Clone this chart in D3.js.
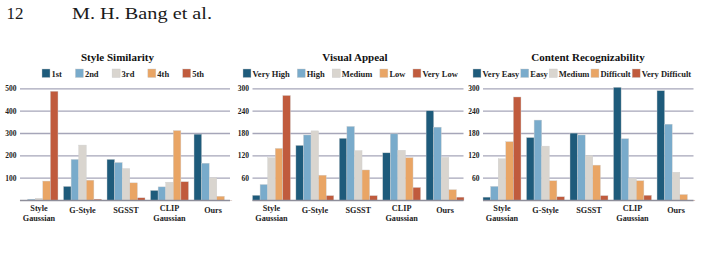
<!DOCTYPE html>
<html>
<head>
<meta charset="utf-8">
<script src="https://cdn.jsdelivr.net/npm/d3@7"></script>
<style>
  body { margin: 0; background: #fff; }
  text { font-family: "Liberation Serif", "Times New Roman", serif; }
</style>
</head>
<body>
<div id="chart"></div>
<script>
// Data

const methods = ["Style\nGaussian", "G-Style", "SGSST", "CLIP\nGaussian", "Ours"];

const similarityLevels = ["1st", "2nd", "3rd", "4th", "5th"];
const appealLevels = ["Very High", "High", "Medium", "Low", "Very Low"];
const contentLevels = ["Very Easy", "Easy", "Medium", "Difficult", "Very Difficult"];

// one row per method, one value per level
const similarityValues = [
  [1, 6, 10, 87, 489],
  [63, 184, 248, 91, 6],
  [184, 170, 143, 79, 12],
  [45, 61, 82, 313, 84],
  [297, 167, 103, 19, 1]
];
const appealValues = [
  [14, 43, 115, 140, 282],
  [148, 176, 187, 68, 13],
  [167, 199, 134, 82, 13],
  [128, 179, 135, 115, 35],
  [241, 197, 116, 29, 9]
];
const contentValues = [
  [9, 38, 112, 158, 278],
  [169, 216, 146, 53, 10],
  [181, 176, 121, 95, 13],
  [304, 166, 60, 53, 14],
  [295, 205, 76, 16, 1]
];

const similarityTicks = [100, 200, 300, 400, 500];
const ratingTicks = [60, 120, 180, 240, 300];

const colors = ["#1e5b7b", "#79abcb", "#d9d5cf", "#e9a565", "#c05b3d"];

// Layout

const width = 701, height = 257;
const baseY = 200.5, topY = 88.8;

const svg = d3.select("#chart")
  .append("svg")
    .attr("width", width)
    .attr("height", height);

// page header
svg.append("text")
  .attr("x", 6.5).attr("y", 19.3)
  .attr("font-size", 17)
  .attr("fill", "#1a1a1a")
  .text("12");
svg.append("text")
  .attr("x", 72).attr("y", 19.3)
  .attr("font-size", 17.5)
  .attr("fill", "#1a1a1a")
  .attr("textLength", 140)
  .attr("lengthAdjust", "spacingAndGlyphs")
  .text("M. H. Bang et al.");

const charts = [
  { title: "Style Similarity", titleX: 117.5, levels: similarityLevels, values: similarityValues,
    max: 500, ticks: similarityTicks, x0: 20, x1: 232, gridEnd: 230,
    legendX: 42, legendGap: 13.5 },
  { title: "Visual Appeal", titleX: 355, levels: appealLevels, values: appealValues,
    max: 300, ticks: ratingTicks, x0: 252.5, x1: 464, gridEnd: 463.5,
    legendX: 243, legendGap: 7.5 },
  { title: "Content Recognizability", titleX: 588, levels: contentLevels, values: contentValues,
    max: 300, ticks: ratingTicks, x0: 483, x1: 695, gridEnd: 693.5,
    legendX: 473, legendGap: 1.5 }
];

charts.forEach(c => {
  const g = svg.append("g");

  const x = d3.scaleBand()
    .domain(methods)
    .range([c.x0, c.x1])
    .paddingInner(0.127)
    .paddingOuter(0);

  const xs = d3.scaleBand()
    .domain(c.levels)
    .range([0, x.bandwidth()]);

  const y = d3.scaleLinear()
    .domain([0, c.max])
    .range([baseY, topY]);

  // title
  g.append("text")
    .attr("x", c.titleX).attr("y", 60.5)
    .attr("text-anchor", "middle")
    .attr("font-size", 11)
    .attr("font-weight", "bold")
    .attr("fill", "#111")
    .text(c.title);

  // legend
  let lx = c.legendX;
  c.levels.forEach((lvl, i) => {
    g.append("rect")
      .attr("x", lx).attr("y", 69)
      .attr("width", 8).attr("height", 8.5)
      .attr("fill", colors[i])
      .attr("stroke", "#c9c9c9")
      .attr("stroke-width", 0.4);
    const t = g.append("text")
      .attr("x", lx + 9.5).attr("y", 76.5)
      .attr("font-size", 8.5)
      .attr("font-weight", "bold")
      .attr("fill", "#222")
      .text(lvl);
    lx += 9.5 + t.node().getComputedTextLength() + c.legendGap;
  });

  // gridlines
  g.selectAll(".grid")
    .data(c.ticks)
    .join("line")
      .attr("x1", c.x0).attr("x2", c.gridEnd)
      .attr("y1", d => y(d)).attr("y2", d => y(d))
      .attr("stroke", "#a6a6b9")
      .attr("stroke-width", 1.3);

  // y tick labels
  g.selectAll(".tick")
    .data(c.ticks)
    .join("text")
      .attr("x", c.x0 - 3.5)
      .attr("y", d => y(d) + 2.6)
      .attr("text-anchor", "end")
      .attr("font-size", 7.5)
      .attr("font-weight", "bold")
      .attr("fill", "#222")
      .text(d => d);

  // bars
  const groups = g.selectAll(".grp")
    .data(c.values)
    .join("g")
      .attr("transform", (d, i) => `translate(${x(methods[i])},0)`);

  groups.selectAll("rect")
    .data(d => d)
    .join("rect")
      .attr("x", (d, i) => xs(c.levels[i]))
      .attr("y", d => y(d))
      .attr("width", xs.bandwidth())
      .attr("height", d => baseY - y(d))
      .attr("fill", (d, i) => colors[i])
      .attr("stroke", "#cfcfcf")
      .attr("stroke-width", 0.4);

  // baseline
  g.append("line")
    .attr("x1", c.x0).attr("x2", c.gridEnd)
    .attr("y1", baseY).attr("y2", baseY)
    .attr("stroke", "#8e8e9a")
    .attr("stroke-width", 1.3);

  // category labels
  methods.forEach(m => {
    const lines = m.split("\n");
    const cx = x(m) + x.bandwidth() / 2;
    const startY = lines.length > 1 ? 210.7 : 212.6;
    lines.forEach((ln, k) => {
      g.append("text")
        .attr("x", cx).attr("y", startY + k * 10.2)
        .attr("text-anchor", "middle")
        .attr("font-size", 8.2)
        .attr("font-weight", "bold")
        .attr("fill", "#222")
        .text(ln);
    });
  });
});
</script>
</body>
</html>
